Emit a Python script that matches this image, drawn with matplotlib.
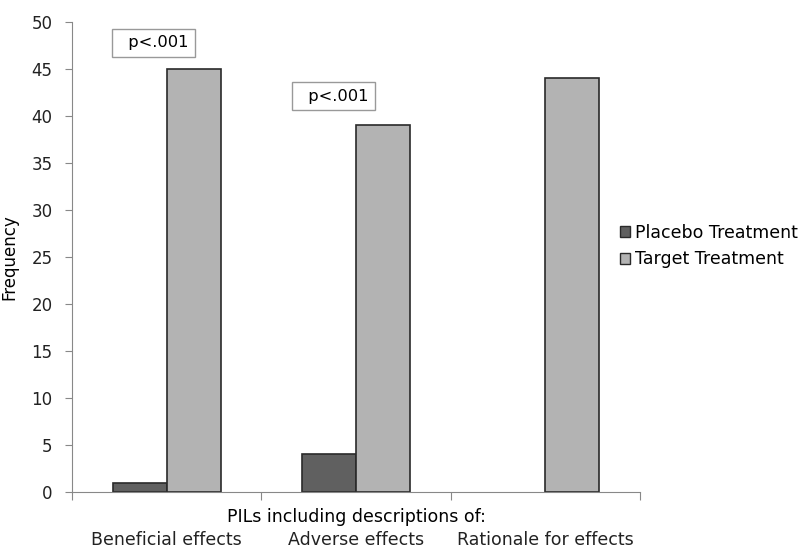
import numpy as np
from matplotlib import pyplot as plt
from matplotlib.patches import Patch

# Chart data
categories = ['Beneficial effects', 'Adverse effects', 'Rationale for effects']
placebo = [1, 4, 0]
target = [45, 39, 44]
series_names = ['Placebo Treatment', 'Target Treatment']
p_labels = ['p<.001', 'p<.001']
p_label_y = [47.8, 42.1]

plt.rcParams['font.family'] = ['DejaVu Sans']

fig = plt.figure(figsize=(8.1, 5.49), dpi=100)
ax = fig.add_axes([72 / 810, 1 - 492 / 549, (640 - 72) / 810, 470 / 549])

x = np.arange(len(categories))
width = 0.286
# zero-height bars get no outline, like the reference
ax.bar(x - width / 2, placebo, width, color='#606060', edgecolor='#2a2a2a',
       linewidth=[1.2 if v else 0 for v in placebo], zorder=2)
ax.bar(x + width / 2, target, width, color='#b3b3b3', edgecolor='#2a2a2a', linewidth=1.2, zorder=2)

ax.set_xlim(-0.5, len(categories) - 0.5)
ax.set_ylim(0, 50)
ax.set_yticks(np.arange(0, 51, 5))
ax.tick_params(axis='y', labelsize=12, colors='#888888', labelcolor='#222222', length=5,
               direction='out', pad=9)

# category boundaries as x ticks, labels as minor ticks
ax.set_xticks(np.arange(len(categories) + 1) - 0.5)
ax.set_xticklabels([])
ax.tick_params(axis='x', which='major', colors='#888888', length=6, direction='out')
ax.set_xticks(x, minor=True)
ax.set_xticklabels(categories, minor=True)
ax.tick_params(axis='x', which='minor', length=0, pad=28, labelsize=12.5, labelcolor='#222222')

for side in ['top', 'right']:
    ax.spines[side].set_visible(False)
for side in ['left', 'bottom']:
    ax.spines[side].set_color('#888888')

ax.set_ylabel('Frequency', fontsize=12)
ax.yaxis.set_label_coords(-(72 - 18) / 568, 0.5)
ax.text(0.5, -(517 - 492) / 470, 'PILs including descriptions of:', transform=ax.transAxes,
        ha='center', va='center', fontsize=12.5)

# p-value boxes, nudged left of the category centre as in the reference
box_shift = [-0.07, -0.12]
for i, (lab, yv) in enumerate(zip(p_labels, p_label_y)):
    ax.text(x[i] + box_shift[i], yv, '  ' + lab, ha='center', va='center', fontsize=11.7,
            bbox=dict(boxstyle='square,pad=0.4', facecolor='white', edgecolor='#999999', linewidth=1))

handles = [Patch(facecolor='#606060', edgecolor='#2a2a2a'), Patch(facecolor='#b3b3b3', edgecolor='#2a2a2a')]
fig.legend(handles, series_names, loc='center left', bbox_to_anchor=(604 / 810, 1 - 246 / 549),
           frameon=False, fontsize=12.5, handlelength=0.6, handleheight=0.6, handletextpad=0.3,
           labelspacing=0.5)

fig.savefig('out.png', dpi=100)
